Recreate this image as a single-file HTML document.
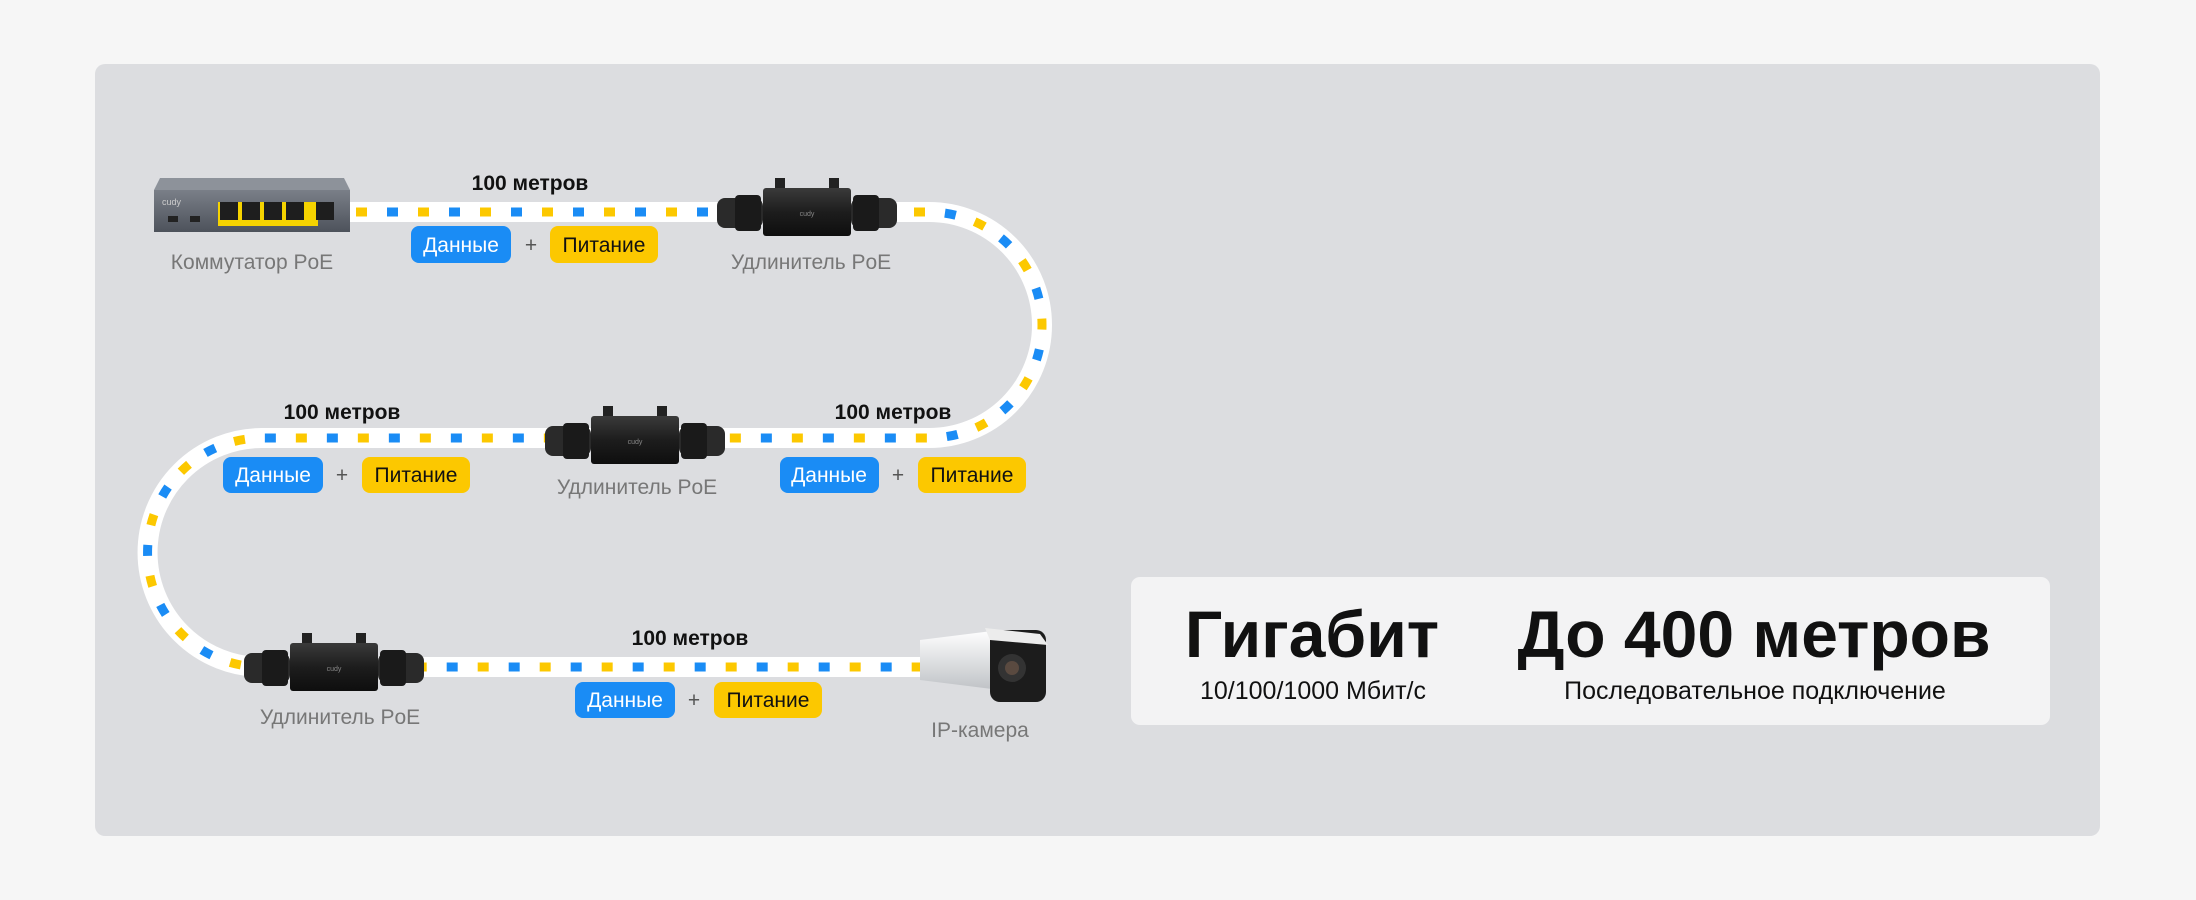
<!DOCTYPE html>
<html><head><meta charset="utf-8"><style>
html,body{margin:0;padding:0;background:#f6f6f6;}
svg{display:block}
text{font-family:"Liberation Sans",sans-serif}
</style></head><body>
<svg width="2196" height="900" viewBox="0 0 2196 900" xmlns="http://www.w3.org/2000/svg">
<defs>
<linearGradient id="cab" x1="0" y1="0" x2="0" y2="1"><stop offset="0" stop-color="#3a3a3a"/><stop offset="0.5" stop-color="#1d1d1d"/><stop offset="1" stop-color="#0e0e0e"/></linearGradient>
<linearGradient id="sw" x1="0" y1="0" x2="0" y2="1"><stop offset="0" stop-color="#7a7f88"/><stop offset="1" stop-color="#4d525b"/></linearGradient>
<linearGradient id="cam" x1="0" y1="0" x2="0" y2="1"><stop offset="0" stop-color="#ffffff"/><stop offset="1" stop-color="#bfc2c6"/></linearGradient>
<g id="ext">
  <rect x="10" y="0" width="10" height="14" fill="#222"/><rect x="64" y="0" width="10" height="14" fill="#222"/>
  <rect x="-2" y="10" width="88" height="48" rx="3" fill="url(#cab)"/>
  <rect x="-48" y="20" width="46" height="30" rx="8" fill="#2a2a2a"/>
  <rect x="-30" y="17" width="26" height="36" rx="4" fill="#1a1a1a"/>
  <rect x="86" y="20" width="46" height="30" rx="8" fill="#2a2a2a"/>
  <rect x="88" y="17" width="26" height="36" rx="4" fill="#1a1a1a"/>
  <text x="42" y="38" font-size="7" fill="#888" text-anchor="middle">cudy</text>
</g>
</defs>
<rect x="95" y="64" width="2005" height="772" rx="10" fill="#dcdde0"/>

<!-- cable -->
<path id="cable" d="M350 212 H929 A113 113 0 0 1 929 438 H262 A114.5 114.5 0 0 0 262 667 H920" fill="none" stroke="#ffffff" stroke-width="20"/>
<path d="M350 212 H929 A113 113 0 0 1 929 438 H262 A114.5 114.5 0 0 0 262 667 H920" fill="none" stroke="#fcc800" stroke-width="9" stroke-dasharray="11 51" stroke-dashoffset="-6"/>
<path d="M350 212 H929 A113 113 0 0 1 929 438 H262 A114.5 114.5 0 0 0 262 667 H920" fill="none" stroke="#1a8cf5" stroke-width="9" stroke-dasharray="11 51" stroke-dashoffset="-37"/>

<!-- switch -->
<polygon points="160,178 344,178 350,190 154,190" fill="#8d929a"/>
<rect x="154" y="190" width="196" height="42" fill="url(#sw)"/>
<rect x="218" y="202" width="100" height="24" fill="#f6d300"/>
<g fill="#1e1e1e"><rect x="220" y="202" width="18" height="18"/><rect x="242" y="202" width="18" height="18"/><rect x="264" y="202" width="18" height="18"/><rect x="286" y="202" width="18" height="18"/><rect x="316" y="202" width="18" height="18"/></g>
<rect x="168" y="216" width="10" height="6" fill="#222"/><rect x="190" y="216" width="10" height="6" fill="#222"/>
<text x="162" y="205" font-size="9" fill="#ccc">cudy</text>

<!-- extenders -->
<use href="#ext" x="765" y="178"/>
<use href="#ext" x="593" y="406"/>
<use href="#ext" x="292" y="633"/>

<!-- camera -->
<path d="M920 640 L1000 630 L1000 690 L920 680 Z" fill="url(#cam)"/>
<rect x="990" y="630" width="56" height="72" rx="10" fill="#1c1c1c"/>
<path d="M985 628 L1040 634 L1048 645 L990 640 Z" fill="#ececec"/>
<circle cx="1012" cy="668" r="14" fill="#333"/><circle cx="1012" cy="668" r="7" fill="#5a4a40"/>

<!-- distance labels -->
<g font-size="21" font-weight="bold" fill="#111" text-anchor="middle">
<text x="530" y="190">100 метров</text>
<text x="893" y="419">100 метров</text>
<text x="342" y="419">100 метров</text>
<text x="690" y="645">100 метров</text>
</g>

<!-- badges -->
<g font-size="21" text-anchor="middle">
<rect x="411" y="226" width="100" height="37" rx="8" fill="#1a8cf5"/><text x="461" y="252" fill="#fff">Данные</text>
<text x="531" y="252" fill="#555">+</text>
<rect x="550" y="226" width="108" height="37" rx="8" fill="#fcc800"/><text x="604" y="252" fill="#111">Питание</text>

<rect x="223" y="457" width="100" height="36" rx="8" fill="#1a8cf5"/><text x="273" y="482" fill="#fff">Данные</text>
<text x="342" y="482" fill="#555">+</text>
<rect x="362" y="457" width="108" height="36" rx="8" fill="#fcc800"/><text x="416" y="482" fill="#111">Питание</text>

<rect x="780" y="457" width="99" height="36" rx="8" fill="#1a8cf5"/><text x="829" y="482" fill="#fff">Данные</text>
<text x="898" y="482" fill="#555">+</text>
<rect x="918" y="457" width="108" height="36" rx="8" fill="#fcc800"/><text x="972" y="482" fill="#111">Питание</text>

<rect x="575" y="682" width="100" height="36" rx="8" fill="#1a8cf5"/><text x="625" y="707" fill="#fff">Данные</text>
<text x="694" y="707" fill="#555">+</text>
<rect x="714" y="682" width="108" height="36" rx="8" fill="#fcc800"/><text x="768" y="707" fill="#111">Питание</text>
</g>

<!-- device labels -->
<g font-size="21" fill="#777" text-anchor="middle">
<text x="252" y="269">Коммутатор PoE</text>
<text x="811" y="269">Удлинитель PoE</text>
<text x="637" y="494">Удлинитель PoE</text>
<text x="340" y="724">Удлинитель PoE</text>
<text x="980" y="737">IP-камера</text>
</g>

<!-- info box -->
<rect x="1131" y="577" width="919" height="148" rx="9" fill="#f3f3f4"/>
<text x="1312" y="657" font-size="66" font-weight="bold" fill="#111" text-anchor="middle">Гигабит</text>
<text x="1754" y="657" font-size="66" font-weight="bold" fill="#111" text-anchor="middle">До 400 метров</text>
<text x="1313" y="699" font-size="25" fill="#111" text-anchor="middle">10/100/1000 Мбит/с</text>
<text x="1755" y="699" font-size="25" fill="#111" text-anchor="middle">Последовательное подключение</text>
</svg>
</body></html>
